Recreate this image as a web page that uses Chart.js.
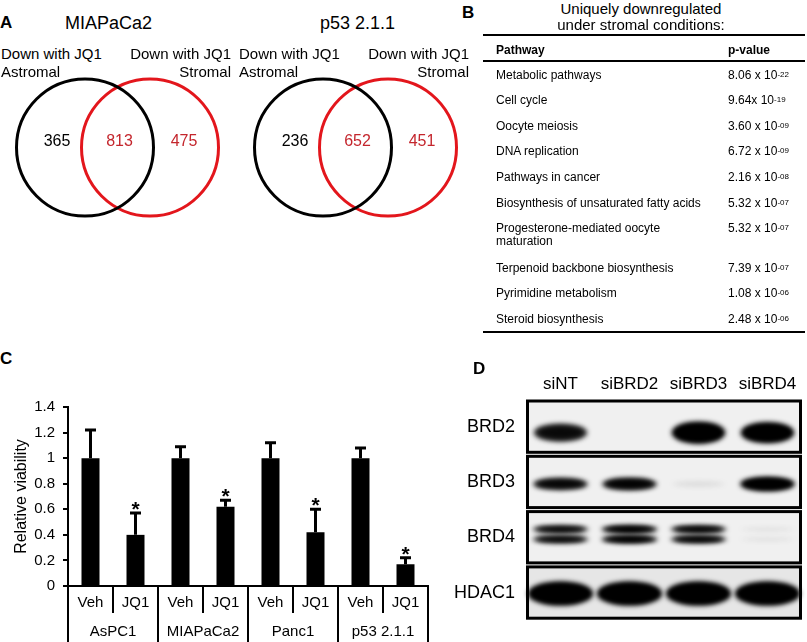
<!DOCTYPE html>
<html>
<head>
<meta charset="utf-8">
<script src="https://cdn.jsdelivr.net/npm/chart.js@4.4.1/dist/chart.umd.min.js"></script>
<style>
body{margin:0;background:#fff;font-family:Arial,"Liberation Sans",sans-serif;color:#000}
#fig{position:relative;width:807px;height:642px;overflow:hidden;background:#fff}
.t{position:absolute;white-space:nowrap}
canvas{position:absolute}
.rule{position:absolute;left:483px;width:322px;background:#000}
sup{font-size:8px;vertical-align:top;position:relative;top:-1px}
</style>
</head>
<body>
<div id="fig">
  <canvas id="vennA" width="470" height="155" style="left:0;top:70px"></canvas>
  <canvas id="chartC" width="440" height="252" style="left:0;top:390px"></canvas>
  <canvas id="blotD" width="367" height="282" style="left:440px;top:360px"></canvas>
</div>
<script>
// Panel A - Venn counts
const vennTitles = ['MIAPaCa2', 'p53 2.1.1'];
const astromalOnly = [365, 236];
const sharedDown = [813, 652];
const stromalOnly = [475, 451];

// Panel B - pathways
const pathways = ['Metabolic pathways', 'Cell cycle', 'Oocyte meiosis', 'DNA replication', 'Pathways in cancer',
  'Biosynthesis of unsaturated fatty acids', 'Progesterone-mediated oocyte\nmaturation', 'Terpenoid backbone biosynthesis',
  'Pyrimidine metabolism', 'Steroid biosynthesis'];
const pMantissa = ['8.06 x 10', '9.64x 10', '3.60 x 10', '6.72 x 10', '2.16 x 10', '5.32 x 10', '5.32 x 10', '7.39 x 10', '1.08 x 10', '2.48 x 10'];
const pExponent = ['-22', '-19', '-09', '-09', '-08', '-07', '-07', '-07', '-06', '-06'];

// Panel C - viability
const cellLines = ['AsPC1', 'MIAPaCa2', 'Panc1', 'p53 2.1.1'];
const treatments = ['Veh', 'JQ1'];
const viability = [1, 0.40, 1, 0.62, 1, 0.42, 1, 0.17];
const viabilityErr = [0.22, 0.17, 0.09, 0.05, 0.12, 0.18, 0.08, 0.05];
const significant = [false, true, false, true, false, true, false, true];
const yTicks = [0, 0.2, 0.4, 0.6, 0.8, 1, 1.2, 1.4];

// Panel D - western blot
const lanes = ['siNT', 'siBRD2', 'siBRD3', 'siBRD4'];
const proteins = ['BRD2', 'BRD3', 'BRD4', 'HDAC1'];
const bandAmount = [
  [0.65, 0, 1, 0.9],
  [0.7, 0.75, 0.02, 1],
  [0.75, 0.85, 0.8, 0.02],
  [1, 1, 1, 1]
];

const fig = document.getElementById('fig');
function addText(html, x, cy, o){
  o = o || {};
  const size = o.size || 15, lh = o.lh || Math.round(size*1.2);
  const d = document.createElement('div');
  d.className = 't';
  d.innerHTML = html;
  d.style.fontSize = size + 'px';
  d.style.lineHeight = lh + 'px';
  d.style.top = (cy - lh/2) + 'px';
  if(o.color) d.style.color = o.color;
  if(o.bold) d.style.fontWeight = 'bold';
  if(o.align === 'right'){ d.style.right = (807 - x) + 'px'; d.style.textAlign = 'right'; }
  else if(o.align === 'center'){ d.style.left = (x - 200) + 'px'; d.style.width = '400px'; d.style.textAlign = 'center'; }
  else d.style.left = x + 'px';
  fig.appendChild(d);
  return d;
}

// panel letters
addText('A', 0, 23, {size:17, bold:true});
addText('B', 462, 13, {size:17, bold:true});
addText('C', 0, 359, {size:17, bold:true});
addText('D', 473, 369, {size:17, bold:true});

// ---- Panel A ----
const vennLeft = [0, 238];
addText(vennTitles[0], 65, 23, {size:18});
addText(vennTitles[1], 320, 23, {size:18});
vennLeft.forEach(x0 => {
  addText('Down with JQ1', x0 + 1, 53.5, {size:15});
  addText('Astromal', x0 + 1, 71.5, {size:15});
  addText('Down with JQ1', x0 + 231, 53.5, {size:15, align:'right'});
  addText('Stromal', x0 + 231, 71.5, {size:15, align:'right'});
});

const vennCounts = {
  id:'vennCounts',
  afterDatasetsDraw(chart){
    const ctx = chart.ctx;
    const blk = chart.getDatasetMeta(0).data, red = chart.getDatasetMeta(1).data;
    ctx.save();
    ctx.font = '16px Arial, "Liberation Sans"';
    ctx.textAlign = 'center'; ctx.textBaseline = 'middle';
    blk.forEach((b, k) => {
      const r = red[k];
      const cy = b.y - 6;
      ctx.fillStyle = '#000';
      ctx.fillText(String(astromalOnly[k]), b.x - 28, cy);
      ctx.fillStyle = '#c4262d';
      ctx.fillText(String(sharedDown[k]), (b.x + r.x)/2 + 2, cy);
      ctx.fillText(String(stromalOnly[k]), r.x + 34, cy);
    });
    ctx.restore();
  }
};
const vennR = 68.5, vennGap = 65;
new Chart(document.getElementById('vennA'), {
  type:'bubble',
  data:{datasets:[
    {data: vennLeft.map(x0 => ({x: x0 + 85, y: 0, r: vennR})), borderColor:'#000', backgroundColor:'rgba(0,0,0,0)', borderWidth:3, clip:false},
    {data: vennLeft.map(x0 => ({x: x0 + 85 + vennGap, y: 0, r: vennR})), borderColor:'#e3161c', backgroundColor:'rgba(0,0,0,0)', borderWidth:3, clip:false}
  ]},
  options:{
    responsive:false, animation:false, events:[],
    layout:{padding:0, autoPadding:false},
    plugins:{legend:{display:false}, tooltip:{enabled:false}},
    scales:{x:{display:false, min:0, max:470}, y:{display:false, min:-1, max:1}}
  },
  plugins:[vennCounts]
});

// ---- Panel B ----
addText('Uniquely downregulated', 641, 9, {size:15, align:'center'});
addText('under stromal conditions:', 641, 25, {size:15, align:'center'});
function rule(top, h){
  const r = document.createElement('div');
  r.className = 'rule'; r.style.top = top + 'px'; r.style.height = h + 'px';
  fig.appendChild(r);
}
rule(34, 2);
rule(60, 1.5);
addText('Pathway', 496, 50, {size:12, bold:true});
addText('p-value', 728, 50, {size:12, bold:true});
let rowY = 75;
pathways.forEach((p, i) => {
  const lines = p.split('\n');
  addText(lines.join('<br>'), 496, rowY, {size:12, lh:13});
  addText(pMantissa[i] + '<sup>' + pExponent[i] + '</sup>', 728, rowY, {size:12, lh:13});
  rowY += 25.6 + (lines.length - 1)*14;
});
rule(331, 2);

// ---- Panel C ----
const barLabels = [];
cellLines.forEach(c => treatments.forEach(t => barLabels.push(c + ' ' + t)));

const errorBars = {
  id:'errorBars',
  afterDatasetsDraw(chart){
    const {ctx, scales:{y}} = chart;
    ctx.save();
    ctx.strokeStyle = '#000'; ctx.fillStyle = '#000'; ctx.lineWidth = 3;
    ctx.font = 'bold 21px Arial, "Liberation Sans"';
    ctx.textAlign = 'center'; ctx.textBaseline = 'alphabetic';
    chart.getDatasetMeta(0).data.forEach((bar, i) => {
      const top = y.getPixelForValue(viability[i] + viabilityErr[i]);
      ctx.beginPath();
      ctx.moveTo(bar.x, bar.y); ctx.lineTo(bar.x, top);
      ctx.moveTo(bar.x - 5.5, top); ctx.lineTo(bar.x + 5.5, top);
      ctx.stroke();
      if(significant[i]) ctx.fillText('*', bar.x, top + 3);
    });
    ctx.restore();
  }
};
const xTable = {
  id:'xTable',
  afterDraw(chart){
    const {ctx, chartArea:a, scales:{x}} = chart;
    const w = x.getPixelForValue(1) - x.getPixelForValue(0);
    ctx.save();
    ctx.strokeStyle = '#000'; ctx.fillStyle = '#000'; ctx.lineWidth = 2;
    ctx.font = '15px Arial, "Liberation Sans"';
    ctx.textAlign = 'center'; ctx.textBaseline = 'middle';
    barLabels.forEach((l, i) => ctx.fillText(treatments[i % 2], x.getPixelForValue(i), a.bottom + 17));
    cellLines.forEach((c, k) => {
      const cx = (x.getPixelForValue(2*k) + x.getPixelForValue(2*k + 1))/2;
      ctx.fillText(c, cx, a.bottom + 46);
    });
    for(let i = 0; i <= barLabels.length; i++){
      const px = Math.round(x.getPixelForValue(0) - w/2 + i*w);
      ctx.beginPath();
      ctx.moveTo(px, a.bottom);
      ctx.lineTo(px, i % 2 === 0 ? chart.height : a.bottom + 27);
      ctx.stroke();
    }
    ctx.restore();
  }
};
new Chart(document.getElementById('chartC'), {
  type:'bar',
  data:{labels: barLabels, datasets:[{data: viability, backgroundColor:'#000', borderWidth:0, barPercentage:0.4, categoryPercentage:1}]},
  options:{
    responsive:false, animation:false, events:[],
    layout:{padding:{top:14, right:12, bottom:0, left:0}},
    plugins:{legend:{display:false}, tooltip:{enabled:false}},
    scales:{
      x:{grid:{display:false}, ticks:{display:false}, border:{color:'#000', width:2},
         afterFit(s){ s.height = 56; }},
      y:{min:0, max:1.4,
         afterBuildTicks(s){ s.ticks = yTicks.map(v => ({value:v})); },
         ticks:{color:'#000', font:{size:15, family:'Arial'}, padding:8, callback: v => String(Math.round(v*10)/10)},
         grid:{drawOnChartArea:false, drawTicks:true, tickLength:5, color:'#000', lineWidth:2},
         border:{color:'#000', width:2},
         title:{display:true, text:'Relative viability', color:'#000', font:{size:16, family:'Arial'}, padding:{top:12, bottom:0}},
         afterFit(s){ s.width = 68; }}
    }
  },
  plugins:[errorBars, xTable]
});

// ---- Panel D ----
const rowStyle = [
  {dy:6, h:22, w:0.78, dbl:false},
  {dy:2, h:14, w:0.8, dbl:false},
  {dy:-3, h:8, w:0.82, dbl:true},
  {dy:1, h:24, w:0.95, dbl:false}
];
const blot = {
  id:'blot',
  beforeDatasetsDraw(chart){
    const {ctx, chartArea:a, scales:{x, y}} = chart;
    const rowH = a.height / proteins.length;
    const laneW = x.getPixelForValue(1) - x.getPixelForValue(0);
    ctx.save();
    proteins.forEach((p, r) => {
      const yc = y.getPixelForValue(r);
      const top = yc - rowH/2 + 2, bot = yc + rowH/2 - 2;
      ctx.fillStyle = r === 3 ? '#e6e6e6' : '#f0f0f0';
      ctx.fillRect(a.left, top, a.right - a.left, bot - top);
      const st = rowStyle[r];
      bandAmount[r].forEach((amt, l) => {
        if(amt <= 0) return;
        const xc = x.getPixelForValue(l);
        const bw = laneW * st.w;
        const h = st.h * (0.45 + 0.55*amt);
        const alpha = Math.min(1, amt < 0.1 ? amt * 2 : 0.15 + amt);
        ctx.filter = 'blur(2.5px)';
        ctx.fillStyle = 'rgba(0,0,0,' + alpha + ')';
        const centres = st.dbl ? [yc + st.dy - 5, yc + st.dy + 5] : [yc + st.dy];
        centres.forEach(cy => {
          ctx.beginPath();
          ctx.ellipse(xc, cy, bw/2, h/2, 0, 0, Math.PI*2);
          ctx.fill();
          ctx.beginPath();
          ctx.ellipse(xc, cy, bw/2 - 4, h/2.6, 0, 0, Math.PI*2);
          ctx.fill();
        });
        ctx.filter = 'none';
      });
      ctx.lineWidth = 3; ctx.strokeStyle = '#000';
      ctx.strokeRect(a.left + 1.5, top, a.right - a.left - 3, bot - top);
    });
    ctx.restore();
  }
};
new Chart(document.getElementById('blotD'), {
  type:'bar',
  data:{labels: lanes, datasets:[]},
  options:{
    responsive:false, animation:false, events:[],
    layout:{padding:{top:0, right:5, bottom:9, left:0}},
    plugins:{legend:{display:false}, tooltip:{enabled:false}},
    scales:{
      x:{position:'top', offset:true, grid:{display:false, drawTicks:false}, border:{display:false},
         ticks:{color:'#000', font:{size:17, family:'Arial'}, padding:4, maxRotation:0, autoSkip:false},
         afterFit(s){ s.height = 39; }},
      y:{type:'category', labels: proteins, offset:true, grid:{display:false, drawTicks:false}, border:{display:false},
         ticks:{color:'#000', font:{size:18, family:'Arial'}, padding:11, autoSkip:false},
         afterFit(s){ s.width = 86; }}
    }
  },
  plugins:[blot]
});
</script>
</body>
</html>
